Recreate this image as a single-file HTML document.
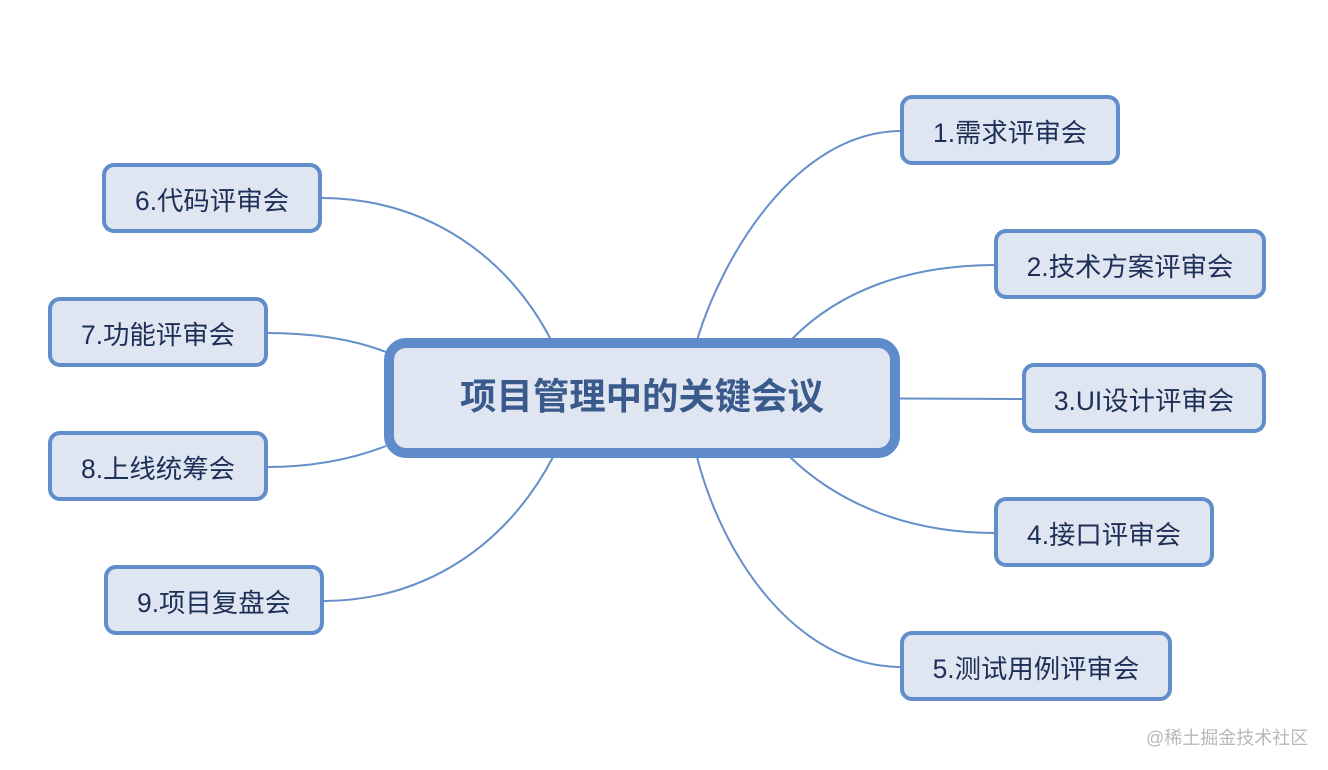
<!DOCTYPE html>
<html>
<head>
<meta charset="utf-8">
<style>
html,body{margin:0;padding:0;background:#fff;}
body{width:1328px;height:770px;position:relative;overflow:hidden;font-family:"Liberation Sans","Noto Sans CJK SC",sans-serif;}
svg{position:absolute;left:0;top:0;}
.n{position:absolute;box-sizing:border-box;height:70px;border:4px solid #628dcb;border-radius:12px;background:#dfe6f2;color:#1d2f56;font-size:26.4px;line-height:68px;text-align:center;white-space:nowrap;}
.c{position:absolute;box-sizing:border-box;left:384px;top:338px;width:516px;height:120px;border:10px solid #5f8bca;border-radius:22px;background:#dfe6f2;color:#3a5a8c;font-size:36.4px;font-weight:bold;line-height:98px;text-align:center;white-space:nowrap;}
.w{position:absolute;left:1146px;top:727px;font-size:18px;line-height:22px;color:#b8b8b8;white-space:nowrap;}
</style>
</head>
<body>
<svg width="1328" height="770" fill="none" stroke="#648fc9" stroke-width="2">
<path d="M697 340C722 258 795 131 902 131"/>
<path d="M792 339C840 290 910 265 996 265"/>
<path d="M898 398.500L1024 399"/>
<path d="M790 457C840 505 910 533 996 533"/>
<path d="M697 457C722 555 795 667 902 667"/>
<path d="M551 340C510 260 430 198 320 198"/>
<path d="M386 352C350 338 310 333 266 333"/>
<path d="M386 446C350 460 310 467 266 467"/>
<path d="M553 457C510 540 430 601 322 601"/>
</svg>
<div class="c">项目管理中的关键会议</div>
<div class="n" style="left:900px;top:95px;width:220px;">1.需求评审会</div>
<div class="n" style="left:994px;top:229px;width:272px;">2.技术方案评审会</div>
<div class="n" style="left:1022px;top:363px;width:244px;">3.UI设计评审会</div>
<div class="n" style="left:994px;top:497px;width:220px;">4.接口评审会</div>
<div class="n" style="left:900px;top:631px;width:272px;">5.测试用例评审会</div>
<div class="n" style="left:102px;top:163px;width:220px;">6.代码评审会</div>
<div class="n" style="left:48px;top:297px;width:220px;">7.功能评审会</div>
<div class="n" style="left:48px;top:431px;width:220px;">8.上线统筹会</div>
<div class="n" style="left:104px;top:565px;width:220px;">9.项目复盘会</div>
<div class="w">@稀土掘金技术社区</div>
</body>
</html>
